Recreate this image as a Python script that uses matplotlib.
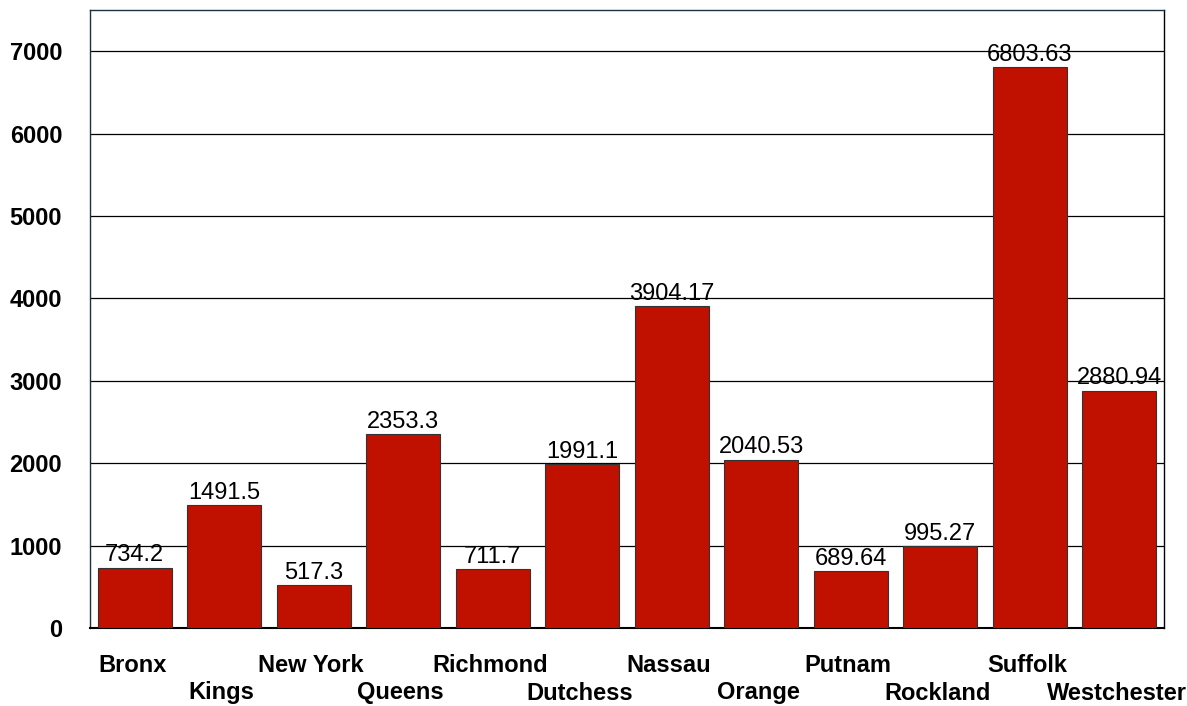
import numpy as np
import matplotlib.pyplot as plt
from matplotlib.transforms import blended_transform_factory

counties = ["Bronx", "Kings", "New York", "Queens", "Richmond", "Dutchess",
            "Nassau", "Orange", "Putnam", "Rockland", "Suffolk", "Westchester"]
values = [734.2, 1491.5, 517.3, 2353.3, 711.7, 1991.1,
          3904.17, 2040.53, 689.64, 995.27, 6803.63, 2880.94]
value_labels = ["734.2", "1491.5", "517.3", "2353.3", "711.7", "1991.1",
                "3904.17", "2040.53", "689.64", "995.27", "6803.63", "2880.94"]
yticks = [0, 1000, 2000, 3000, 4000, 5000, 6000, 7000]

plt.rcParams['font.family'] = ['Liberation Sans', 'DejaVu Sans']
FS = 17

fig = plt.figure(figsize=(11.87, 7.06), dpi=100)
ax = fig.add_axes([90 / 1187, 78 / 706, 1074 / 1187, 618 / 706])

x = np.arange(len(counties))
ax.bar(x, values, width=0.83, color="#BF1000", edgecolor="#333333", linewidth=0.8, zorder=3)

for xi, v, lab in zip(x, values, value_labels):
    ax.annotate(lab, (xi, v), xytext=(0, 1), textcoords="offset points",
                ha="center", va="bottom", fontsize=FS, zorder=4)

ax.set_xlim(-0.5, len(counties) - 0.5)
ax.set_ylim(0, 7500)
ax.set_yticks(yticks)
ax.set_yticklabels([str(t) for t in yticks], fontweight="bold", fontsize=FS)
ax.tick_params(axis="y", length=0, pad=20)
ax.set_xticks([])
ax.yaxis.grid(True, color="black", linewidth=0.9, zorder=0)

# category names in two staggered rows
trans = blended_transform_factory(ax.transData, ax.transAxes)
for i, name in enumerate(counties):
    y = -37 / 618 if i % 2 == 0 else -65 / 618
    ax.text(i - 0.03, y, name, transform=trans, ha="center", va="center",
            fontweight="bold", fontsize=FS)

for side in ["left", "top"]:
    ax.spines[side].set_color("#1F3040")
    ax.spines[side].set_linewidth(1.0)
ax.spines["right"].set_color("black")
ax.spines["right"].set_linewidth(1.0)
ax.spines["bottom"].set_color("black")
ax.spines["bottom"].set_linewidth(1.5)

fig.savefig("out.png", dpi=100)
